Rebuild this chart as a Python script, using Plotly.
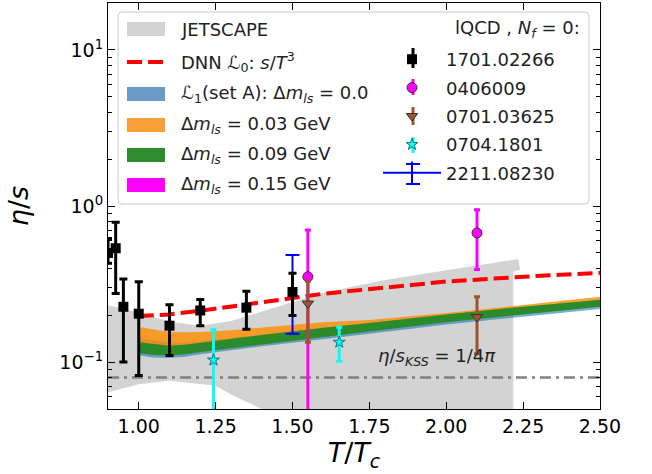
import numpy as np
import plotly.graph_objects as go

FONT = "DejaVu Sans"

# ---------------- data ----------------
# JETSCAPE band (upper edge left->right, then right edge, then lower edge right->left)
jet_upper_x = [0.9, 1.0, 1.1, 1.2, 1.3, 1.4, 1.5, 1.6, 1.8, 2.0, 2.234]
jet_upper_y = [0.231, 0.208, 0.181, 0.171, 0.183, 0.210, 0.240, 0.278, 0.335, 0.385, 0.457]
jet_edge_x = [2.24, 2.218, 2.218]
jet_edge_y = [0.390, 0.380, 0.030]
jet_lower_x = [1.6, 1.4, 1.3, 1.25, 1.1, 1.0, 0.9]
jet_lower_y = [0.040, 0.050, 0.062, 0.0705, 0.076, 0.072, 0.064]

# DNN L0 (red dashed)
dnn_x = [1.0, 1.1, 1.2, 1.3, 1.4, 1.5, 1.6, 1.75, 2.0, 2.25, 2.5]
dnn_y = [0.197, 0.202, 0.213, 0.226, 0.240, 0.257, 0.274, 0.293, 0.328, 0.352, 0.373]

# L1 bands
band_x = [1.0, 1.05, 1.1, 1.15, 1.2, 1.3, 1.4, 1.5, 1.6, 1.75, 2.0, 2.25, 2.5]
setA_lo = [0.110, 0.107, 0.106, 0.108, 0.112, 0.119, 0.126, 0.133, 0.141, 0.152, 0.174, 0.196, 0.219]
setA_hi = [0.142, 0.137, 0.133, 0.133, 0.136, 0.143, 0.150, 0.158, 0.166, 0.178, 0.202, 0.226, 0.250]
dm003_lo = [0.128, 0.126, 0.125, 0.127, 0.130, 0.136, 0.142, 0.148, 0.155, 0.165, 0.186, 0.208, 0.232]
dm003_hi = [0.168, 0.162, 0.156, 0.155, 0.156, 0.160, 0.167, 0.174, 0.180, 0.186, 0.206, 0.232, 0.262]
dm009_lo = [0.114, 0.111, 0.110, 0.112, 0.116, 0.123, 0.130, 0.137, 0.145, 0.157, 0.180, 0.202, 0.226]
dm009_hi = [0.134, 0.130, 0.127, 0.129, 0.133, 0.141, 0.149, 0.157, 0.166, 0.178, 0.202, 0.226, 0.251]
dm015_lo = [0.117, 0.114, 0.113, 0.115, 0.119, 0.126, 0.133, 0.140, 0.148, 0.160, 0.184, 0.206, 0.231]
dm015_hi = [0.131, 0.127, 0.124, 0.126, 0.130, 0.138, 0.146, 0.154, 0.162, 0.174, 0.198, 0.222, 0.246]

# lattice QCD points
l1701_x = [0.9, 0.925, 0.95, 1.0, 1.1, 1.2, 1.35, 1.5]
l1701_y = [0.50, 0.536, 0.226, 0.204, 0.171, 0.214, 0.223, 0.281]
l1701_up = [0.12, 0.252, 0.114, 0.123, 0.062, 0.038, 0.061, 0.09]
l1701_dn = [0.07, 0.261, 0.126, 0.122, 0.061, 0.043, 0.061, 0.082]

l0406_x = [1.55, 2.1]
l0406_y = [0.352, 0.672]
l0406_up = [0.351, 0.274]
l0406_dn = [0.350, 0.280]

l0701_x = [1.55, 2.1]
l0701_y = [0.237, 0.194]
l0701_up = [0.093, 0.068]
l0701_dn = [0.103, 0.081]

l0704_x = [1.243, 1.652]
l0704_y = [0.103, 0.134]
l0704_up = [0.058, 0.033]
l0704_dn = [0.056, 0.033]

l2211_x = [1.5]
l2211_y = [0.28]
l2211_up = [0.205]
l2211_dn = [0.128]

kss_x = [0.9, 2.5]
kss_value = 1.0 / (4.0 * np.pi)

x_ticks = [1.0, 1.25, 1.5, 1.75, 2.0, 2.25, 2.5]
y_ticks = [0.1, 1.0, 10.0]
y_ticktext = ["10<sup>\u22121</sup>", "10<sup>0</sup>", "10<sup>1</sup>"]

# left-column legend labels
leg_labels = [
    "JETSCAPE",
    "DNN \u2112<sub>0</sub>: <i>s</i>/<i>T</i><sup>3</sup>",
    "\u2112<sub>1</sub>(set A): \u0394<i>m</i><sub><i>ls</i></sub> = 0.0",
    "\u0394<i>m</i><sub><i>ls</i></sub> = 0.03 GeV",
    "\u0394<i>m</i><sub><i>ls</i></sub> = 0.09 GeV",
    "\u0394<i>m</i><sub><i>ls</i></sub> = 0.15 GeV",
]
leg_colors = ["#d3d3d3", "red", "#6a9bc6", "#f9a038", "#2e8b2e", "#ff00ff"]

# ---------------- figure ----------------
fig = go.Figure()

def poly(xs, lo, hi):
    return list(xs) + list(xs)[::-1], list(hi) + list(lo)[::-1]

# JETSCAPE
jx = jet_upper_x + jet_edge_x + jet_lower_x
jy = jet_upper_y + jet_edge_y + jet_lower_y
fig.add_trace(go.Scatter(x=jx, y=jy, fill="toself", fillcolor="#d3d3d3",
                         line=dict(width=0, color="#d3d3d3"), mode="lines",
                         name="JETSCAPE", showlegend=False, hoverinfo="skip"))

# bands
px_, py_ = poly(band_x, setA_lo, setA_hi)
fig.add_trace(go.Scatter(x=px_, y=py_, fill="toself", fillcolor="rgba(31,119,180,0.6)",
                         line=dict(width=0), mode="lines", name="set A", showlegend=False))
px_, py_ = poly(band_x, dm003_lo, dm003_hi)
fig.add_trace(go.Scatter(x=px_, y=py_, fill="toself", fillcolor="rgba(255,140,0,0.8)",
                         line=dict(width=0), mode="lines", name="0.03", showlegend=False))
px_, py_ = poly(band_x, dm015_lo, dm015_hi)
fig.add_trace(go.Scatter(x=px_, y=py_, fill="toself", fillcolor="#ff00ff",
                         line=dict(width=0), mode="lines", name="0.15", showlegend=False))
px_, py_ = poly(band_x, dm009_lo, dm009_hi)
fig.add_trace(go.Scatter(x=px_, y=py_, fill="toself", fillcolor="#2b8b2b",
                         line=dict(width=0), mode="lines", name="0.09", showlegend=False))

# DNN line
fig.add_trace(go.Scatter(x=dnn_x, y=dnn_y, mode="lines",
                         line=dict(color="red", width=4, dash="15px,6px"),
                         name="DNN", showlegend=False))

# KSS line
fig.add_trace(go.Scatter(x=kss_x, y=[kss_value, kss_value], mode="lines",
                         line=dict(color="gray", width=2.5, dash="11px,5px,3px,5px"),
                         showlegend=False))

# lattice points
fig.add_trace(go.Scatter(x=l2211_x, y=l2211_y, mode="lines+markers",
                         marker=dict(symbol="line-ns", size=16, line=dict(color="blue", width=2)),
                         line=dict(color="blue", width=2),
                         error_y=dict(type="data", array=l2211_up, arrayminus=l2211_dn,
                                      color="blue", thickness=2, width=7),
                         name="2211.08230", legend="legend2", legendgroup="h5", legendrank=15))
fig.add_trace(go.Scatter(x=l1701_x, y=l1701_y, mode="markers",
                         marker=dict(symbol="square", size=10, color="black"),
                         error_y=dict(type="data", array=l1701_up, arrayminus=l1701_dn,
                                      color="black", thickness=3, width=4),
                         name="1701.02266", legend="legend2", legendgroup="h1", legendrank=11))
fig.add_trace(go.Scatter(x=l0406_x, y=l0406_y, mode="markers",
                         marker=dict(symbol="circle", size=10, color="#ff00ff",
                                     line=dict(color="#333333", width=1)),
                         error_y=dict(type="data", array=l0406_up, arrayminus=l0406_dn,
                                      color="#ff00ff", thickness=3, width=3),
                         name="0406009", legend="legend2", legendgroup="h2", legendrank=12))
fig.add_trace(go.Scatter(x=l0701_x, y=l0701_y, mode="markers",
                         marker=dict(symbol="triangle-down", size=10, color="#a0522d",
                                     line=dict(color="#333333", width=1)),
                         error_y=dict(type="data", array=l0701_up, arrayminus=l0701_dn,
                                      color="#a0522d", thickness=3, width=3),
                         name="0701.03625", legend="legend2", legendgroup="h3", legendrank=13))
fig.add_trace(go.Scatter(x=l0704_x, y=l0704_y, mode="markers",
                         marker=dict(symbol="star", size=9, color="cyan",
                                     line=dict(color="#207070", width=1)),
                         error_y=dict(type="data", array=l0704_up, arrayminus=l0704_dn,
                                      color="cyan", thickness=3, width=3),
                         name="0704.1801", legend="legend2", legendgroup="h4", legendrank=14))

# ---------------- layout ----------------
L, R, T, B = 108, 52, 3, 65
W, H = 652, 474
pw, ph = W - L - R, H - T - B

def pxx(p):
    return (p - L) / pw

def pxy(p):
    return (H - B - p) / ph

# rounded legend frame
x0, x1, y0, y1 = pxx(118), pxx(589), pxy(204), pxy(12)
rx, ry = 4 / pw, 4 / ph
path = (f"M{x0+rx},{y0} L{x1-rx},{y0} Q{x1},{y0} {x1},{y0+ry} L{x1},{y1-ry} "
        f"Q{x1},{y1} {x1-rx},{y1} L{x0+rx},{y1} Q{x0},{y1} {x0},{y1-ry} "
        f"L{x0},{y0+ry} Q{x0},{y0} {x0+rx},{y0} Z")

shapes = [dict(type="path", path=path, xref="paper", yref="paper",
               fillcolor="rgba(255,255,255,0.8)", line=dict(color="#cccccc", width=1),
               layer="above")]
annotations = []

# left legend column (patches + text)
row_y = [29, 62, 94, 125, 155, 185]
for i, (lab, col) in enumerate(zip(leg_labels, leg_colors)):
    yc = row_y[i]
    if i == 1:
        shapes.append(dict(type="line", xref="paper", yref="paper",
                           x0=pxx(127), x1=pxx(165), y0=pxy(yc), y1=pxy(yc),
                           line=dict(color=col, width=4, dash="15px,6px"), layer="above"))
    else:
        shapes.append(dict(type="rect", xref="paper", yref="paper",
                           x0=pxx(127), x1=pxx(165), y0=pxy(yc + 7), y1=pxy(yc - 7),
                           fillcolor=col, line=dict(width=0), layer="above"))
    annotations.append(dict(x=pxx(179), y=pxy(yc), xref="paper", yref="paper",
                            xanchor="left", yanchor="middle", text=lab, showarrow=False,
                            font=dict(family=FONT, size=18, color="#222222")))

# small error-bar glyphs behind the right-column legend markers
MX = 413
rl_rows = [58, 87, 116, 145, 174]
rl_cols = ["black", "#ff00ff", "#a0522d", "cyan"]
rl_half = [10, 8, 9, 8]
for yc, col, hh in zip(rl_rows[:4], rl_cols, rl_half):
    shapes.append(dict(type="line", xref="paper", yref="paper",
                       x0=pxx(MX), x1=pxx(MX), y0=pxy(yc + hh), y1=pxy(yc - hh),
                       line=dict(color=col, width=3), layer="above"))
# caps for the blue 2211.08230 glyph
for dy in (-10, 10):
    shapes.append(dict(type="line", xref="paper", yref="paper",
                       x0=pxx(MX - 7), x1=pxx(MX + 7), y0=pxy(rl_rows[4] + dy), y1=pxy(rl_rows[4] + dy),
                       line=dict(color="blue", width=2), layer="above"))

annotations += [
    dict(x=pxx(453), y=pxy(29), xref="paper", yref="paper", xanchor="left", yanchor="middle",
         text="lQCD , <i>N<sub>f</sub></i> = 0:", showarrow=False,
         font=dict(family=FONT, size=18, color="#222222")),
    dict(x=1.97, y=np.log10(0.108), xref="x", yref="y", xanchor="center", yanchor="middle",
         text="<i>\u03b7</i>/<i>s</i><sub><i>KSS</i></sub> = 1/4<i>\u03c0</i>", showarrow=False,
         font=dict(family=FONT, size=18, color="#222222")),
]

minor_vals = []
for dec in [0.01, 0.1, 1.0, 10.0]:
    for k in range(2, 10):
        minor_vals.append(dec * k)

axis_common = dict(showline=True, linecolor="black", linewidth=1.2, mirror="allticks",
                   ticks="inside", ticklen=7, tickwidth=1.2, tickcolor="black",
                   showgrid=False, zeroline=False,
                   tickfont=dict(family=FONT, size=19, color="black"))

fig.update_layout(
    width=W, height=H,
    margin=dict(l=L, r=R, t=T, b=B),
    paper_bgcolor="white", plot_bgcolor="white",
    font=dict(family=FONT, size=18, color="black"),
    showlegend=True,
    xaxis=dict(range=[0.9, 2.5], tickvals=x_ticks, tickformat=".2f",
               title=dict(text="<i>T</i>/<i>T</i><sub><i>c</i></sub>",
                          font=dict(family=FONT, size=27), standoff=6),
               **axis_common),
    yaxis=dict(type="log", range=[np.log10(0.05), np.log10(20)],
               tickvals=y_ticks, ticktext=y_ticktext,
               minor=dict(tickvals=minor_vals, ticks="inside", ticklen=4,
                          tickcolor="black", tickwidth=1),
               title=dict(text="<i>\u03b7</i>/<i>s</i>",
                          font=dict(family=FONT, size=27), standoff=22),
               **axis_common),
    legend2=dict(x=pxx(378), y=pxy(41), xanchor="left", yanchor="top",
                 bgcolor="rgba(0,0,0,0)", borderwidth=0, itemwidth=58,
                 traceorder="grouped", tracegroupgap=2,
                 font=dict(family=FONT, size=18, color="#222222")),
    shapes=shapes,
    annotations=annotations,
)

fig.write_html("out.html")
